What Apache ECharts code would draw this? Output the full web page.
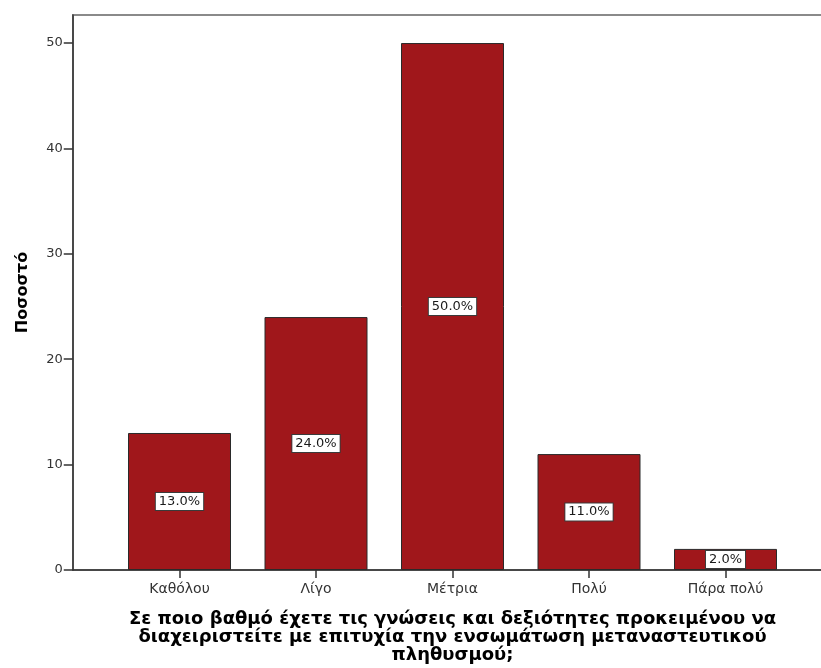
<!DOCTYPE html>
<html>
<head>
<meta charset="utf-8">
<script src="https://cdn.jsdelivr.net/npm/echarts@6/dist/echarts.min.js"></script>
<style>
  html, body { margin: 0; padding: 0; background: #fff; }
  #chart { width: 821px; height: 668px; }
</style>
</head>
<body>
<div id="chart"></div>
<script>
// Response categories and percentages
const categories = ['Καθόλου', 'Λίγο', 'Μέτρια', 'Πολύ', 'Πάρα πολύ'];
const percentages = [13.0, 24.0, 50.0, 11.0, 2.0];
const yTicks = [0, 10, 20, 30, 40, 50];

const xTitle = 'Σε ποιο βαθμό έχετε τις γνώσεις και δεξιότητες προκειμένου να\n' +
               'διαχειριστείτε με επιτυχία την ενσωμάτωση μεταναστευτικού\n' +
               'πληθυσμού;';
const yTitle = 'Ποσοστό';

const FONT = '"DejaVu Sans", Verdana, sans-serif';
const chart = echarts.init(document.getElementById('chart'), null, { renderer: 'canvas' });

chart.setOption({
  animation: false,
  backgroundColor: '#fff',
  grid: [
    // bars
    { left: 111.25, right: 27.25, top: 15, bottom: 98, outerBoundsMode: 'none', containLabel: false },
    // outer frame of the plot area (right edge runs past the canvas)
    { left: 73, right: -8, top: 15, bottom: 98, show: true, outerBoundsMode: 'none', containLabel: false,
      borderColor: '#8a8a8a', borderWidth: 2, backgroundColor: 'transparent' }
  ],
  xAxis: [
    {
      gridIndex: 0,
      type: 'category',
      data: categories,
      name: xTitle,
      nameLocation: 'middle',
      nameGap: 40,
      nameTextStyle: { fontFamily: FONT, fontSize: 18, fontWeight: 'bold', color: '#000', lineHeight: 18 },
      axisLine: { show: false },
      axisTick: { show: true, alignWithLabel: true, length: 8, lineStyle: { color: '#333', width: 1.5 } },
      axisLabel: { fontFamily: FONT, fontSize: 14, color: '#333', margin: 12 },
      splitLine: { show: false }
    },
    {
      gridIndex: 1,
      type: 'value',
      min: 0, max: 1,
      axisLine: { show: true, lineStyle: { color: '#333', width: 1.5 } },
      axisTick: { show: false },
      axisLabel: { show: false },
      splitLine: { show: false }
    }
  ],
  yAxis: [
    {
      gridIndex: 0,
      type: 'value',
      min: 0,
      max: 52.66,
      interval: 10,
      offset: 38.5,
      name: yTitle,
      nameLocation: 'middle',
      nameGap: 42,
      nameTextStyle: { fontFamily: FONT, fontSize: 16, fontWeight: 'bold', color: '#000' },
      axisLine: { show: true, lineStyle: { color: '#333', width: 1.5 } },
      axisTick: { show: true, length: 9, customValues: yTicks, lineStyle: { color: '#333', width: 1.5 } },
      axisLabel: {
        fontFamily: FONT, fontSize: 13, color: '#333', margin: 10,
        customValues: yTicks
      },
      splitLine: { show: false }
    },
    {
      gridIndex: 1,
      type: 'value',
      min: 0, max: 1,
      axisLine: { show: false },
      axisTick: { show: false },
      axisLabel: { show: false },
      splitLine: { show: false }
    }
  ],
  series: [
    {
      type: 'bar',
      xAxisIndex: 0,
      yAxisIndex: 0,
      data: percentages,
      barWidth: 103,
      itemStyle: { color: '#a0171b', borderColor: '#2a2a2a', borderWidth: 1 },
      label: {
        show: true,
        position: 'inside',
        formatter: p => p.value.toFixed(1) + '%',
        fontFamily: FONT,
        fontSize: 13,
        color: '#1a1a1a',
        backgroundColor: '#fff',
        borderColor: '#3a3a3a',
        borderWidth: 1,
        padding: [2, 3, 2, 3]
      }
    }
  ]
});
</script>
</body>
</html>
